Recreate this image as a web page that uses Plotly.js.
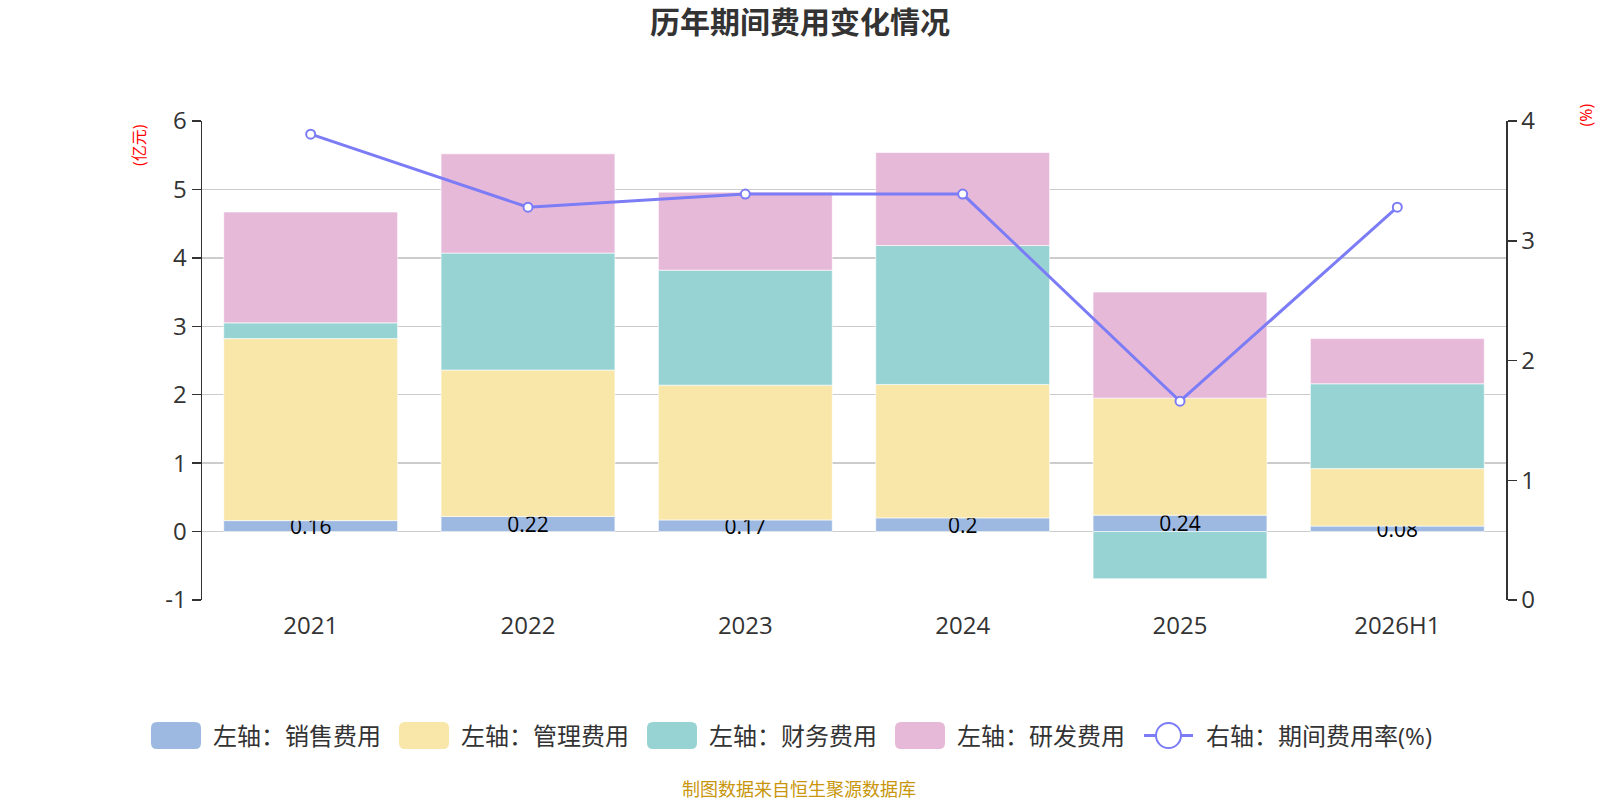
<!DOCTYPE html>
<html>
<head>
<meta charset="utf-8">
<script src="https://cdn.plot.ly/plotly-3.0.1.min.js"></script>
<style>
    html, body { margin: 0; padding: 0; background: #fff; }
    #chart { width: 1600px; height: 800px; }
</style>
</head>
<body>
<div id="chart"></div>
<script>
// categories on the x axis
const years = ['2021', '2022', '2023', '2024', '2025', '2026H1'];

// expenses in 亿元 (left axis)
const salesCost = [0.16, 0.22, 0.17, 0.2, 0.24, 0.08];
const adminCost = [2.66, 2.14, 1.97, 1.95, 1.71, 0.84];
const financeCost = [0.23, 1.71, 1.68, 2.03, -0.69, 1.24];
const rdCost = [1.62, 1.45, 1.14, 1.36, 1.55, 0.66];

// period expense ratio in % (right axis)
const expenseRate = [3.89, 3.28, 3.39, 3.39, 1.66, 3.28];

// left axis ticks, written with a plain hyphen like the original
const leftTickVals = [-1, 0, 1, 2, 3, 4, 5, 6];
const leftTickText = ['-1', '0', '1', '2', '3', '4', '5', '6'];

// series names and colours
const barNames = ['左轴：销售费用', '左轴：管理费用', '左轴：财务费用', '左轴：研发费用'];
const barColors = ['#9db9e2', '#f8e7a9', '#98d3d4', '#e7b9d8'];
const lineName = '右轴：期间费用率(%)';
const lineColor = '#7b7cf6';

// tick positions between categories on the zero line
const boundaryTicks = [0.5, 1.5, 2.5, 3.5, 4.5];

const fontFamily = '"Open Sans", "Noto Sans CJK SC", sans-serif';

// plot area in pixels
const plotLeft = 202, plotRight = 1506, plotTop = 121, plotBottom = 600;
const plotW = plotRight - plotLeft, plotH = plotBottom - plotTop;
// pixel -> paper helpers (only used for the texts around the plot)
function paperX(px) { return (px - plotLeft) / plotW; }
function paperY(py) { return (plotBottom - py) / plotH; }

const barSeries = [salesCost, adminCost, financeCost, rdCost];
const data = barSeries.map(function (values, i) {
    return {
        type: 'bar',
        name: barNames[i],
        x: years,
        y: values,
        marker: { color: barColors[i], line: { color: 'rgba(255,255,255,0.6)', width: 1 } },
        hoverinfo: 'y+name'
    };
});

// labels on the sales bars, kept at full size
data[0].text = salesCost.map(String);
data[0].textposition = 'inside';
data[0].insidetextanchor = 'middle';
data[0].constraintext = 'none';
data[0].textangle = 0;
data[0].textfont = { color: '#000', size: 21, family: fontFamily };

data.push({
    type: 'scatter',
    mode: 'lines+markers',
    name: lineName,
    x: years,
    y: expenseRate,
    yaxis: 'y2',
    line: { color: lineColor, width: 3 },
    marker: { color: '#fff', size: 9, line: { color: lineColor, width: 2 } }
});

// custom legend: rounded swatches below the plot, in pixels
const legendY = 735.5;
const legendStarts = [151, 399, 647, 895, 1144];
const shapes = [];
const annotations = [];

function roundedRect(x0, y0, x1, y1, r) {
    return 'M' + (x0 + r) + ',' + y0 +
        ' L' + (x1 - r) + ',' + y0 + ' Q' + x1 + ',' + y0 + ' ' + x1 + ',' + (y0 + r) +
        ' L' + x1 + ',' + (y1 - r) + ' Q' + x1 + ',' + y1 + ' ' + (x1 - r) + ',' + y1 +
        ' L' + (x0 + r) + ',' + y1 + ' Q' + x0 + ',' + y1 + ' ' + x0 + ',' + (y1 - r) +
        ' L' + x0 + ',' + (y0 + r) + ' Q' + x0 + ',' + y0 + ' ' + (x0 + r) + ',' + y0 + ' Z';
}

function legendText(text, left) {
    annotations.push({
        text: text,
        xref: 'paper', yref: 'paper',
        x: 0, y: 0,
        xshift: left - plotLeft,
        yshift: plotBottom - legendY,
        xanchor: 'left', yanchor: 'middle',
        showarrow: false,
        font: { size: 24, color: '#333' }
    });
}

const swatchW = 50, swatchH = 27;
barNames.forEach(function (name, i) {
    const x0 = legendStarts[i] - plotLeft;
    const yc = plotBottom - legendY;
    shapes.push({
        type: 'path',
        xref: 'paper', yref: 'paper',
        xsizemode: 'pixel', ysizemode: 'pixel',
        xanchor: 0, yanchor: 0,
        path: roundedRect(x0, yc - swatchH / 2, x0 + swatchW, yc + swatchH / 2, 6),
        fillcolor: barColors[i],
        line: { width: 0 }
    });
    legendText(name, legendStarts[i] + swatchW + 10);
});

// line entry: short line with an open circle
(function () {
    const x0 = legendStarts[4] - plotLeft;
    const yc = plotBottom - legendY;
    shapes.push({
        type: 'line',
        xref: 'paper', yref: 'paper',
        xsizemode: 'pixel', ysizemode: 'pixel',
        xanchor: 0, yanchor: 0,
        x0: x0, x1: x0 + 49, y0: yc, y1: yc,
        line: { color: lineColor, width: 3 }
    });
    shapes.push({
        type: 'circle',
        xref: 'paper', yref: 'paper',
        xsizemode: 'pixel', ysizemode: 'pixel',
        xanchor: 0, yanchor: 0,
        x0: x0 + 12, x1: x0 + 37, y0: yc - 12.5, y1: yc + 12.5,
        fillcolor: '#fff',
        line: { color: lineColor, width: 2 }
    });
    legendText(lineName, legendStarts[4] + 60);
})();

// axis units and source note
annotations.push(
    {
        text: '(亿元)',
        xref: 'paper', yref: 'paper',
        x: paperX(139), y: paperY(122),
        xanchor: 'center', yanchor: 'top',
        textangle: -90,
        showarrow: false,
        font: { size: 16, color: '#ff0000' }
    },
    {
        text: '(%)',
        xref: 'paper', yref: 'paper',
        x: paperX(1585), y: paperY(102),
        xanchor: 'center', yanchor: 'top',
        textangle: -90,
        showarrow: false,
        font: { size: 16, color: '#ff0000' }
    },
    {
        text: '制图数据来自恒生聚源数据库',
        xref: 'paper', yref: 'paper',
        x: paperX(799), y: paperY(789),
        xanchor: 'center', yanchor: 'middle',
        showarrow: false,
        font: { size: 18, color: '#c8960c' }
    }
);

const axisLine = { showline: true, linecolor: '#333', linewidth: 1.5 };

const layout = {
    width: 1600,
    height: 800,
    margin: { l: plotLeft, r: 1600 - plotRight, t: plotTop, b: 800 - plotBottom },
    paper_bgcolor: '#fff',
    plot_bgcolor: '#fff',
    font: { family: fontFamily, color: '#333', size: 24 },
    barmode: 'relative',
    bargap: 0.2,
    showlegend: false,
    title: {
        text: '<b>历年期间费用变化情况</b>',
        font: { size: 30, color: '#333', family: fontFamily },
        x: 0.5,
        xref: 'container',
        y: 0.972,
        yref: 'container',
        yanchor: 'middle'
    },
    xaxis: {
        type: 'category',
        showline: false,
        showgrid: false,
        ticks: '',
        tickfont: { size: 24, color: '#333' },
        ticklabelstandoff: 9
    },
    // axis line drawn along y = 0, with ticks between the categories
    xaxis2: Object.assign({
        overlaying: 'x',
        anchor: 'free',
        position: 1 / 7,
        range: [-0.5, 5.5],
        showgrid: false,
        zeroline: false,
        ticks: 'outside',
        ticklen: 9,
        tickwidth: 1.5,
        tickcolor: '#333',
        tickvals: boundaryTicks,
        showticklabels: false
    }, axisLine),
    yaxis: Object.assign({
        range: [-1, 6],
        tickmode: 'array',
        tickvals: leftTickVals,
        ticktext: leftTickText,
        ticks: 'outside',
        ticklen: 9,
        tickcolor: '#333',
        tickwidth: 1.5,
        gridcolor: '#cccccc',
        gridwidth: 1.5,
        zeroline: false,
        tickfont: { size: 24, color: '#333' }
    }, axisLine),
    yaxis2: Object.assign({
        overlaying: 'y',
        side: 'right',
        range: [0, 4],
        dtick: 1,
        ticks: 'outside',
        ticklen: 9,
        tickcolor: '#333',
        tickwidth: 1.5,
        showgrid: false,
        zeroline: false,
        tickfont: { size: 24, color: '#333' }
    }, axisLine),
    shapes: shapes,
    annotations: annotations
};

const config = {
    displayModeBar: false,
    staticPlot: true
};

Plotly.newPlot('chart', data, layout, config);
</script>
</body>
</html>
